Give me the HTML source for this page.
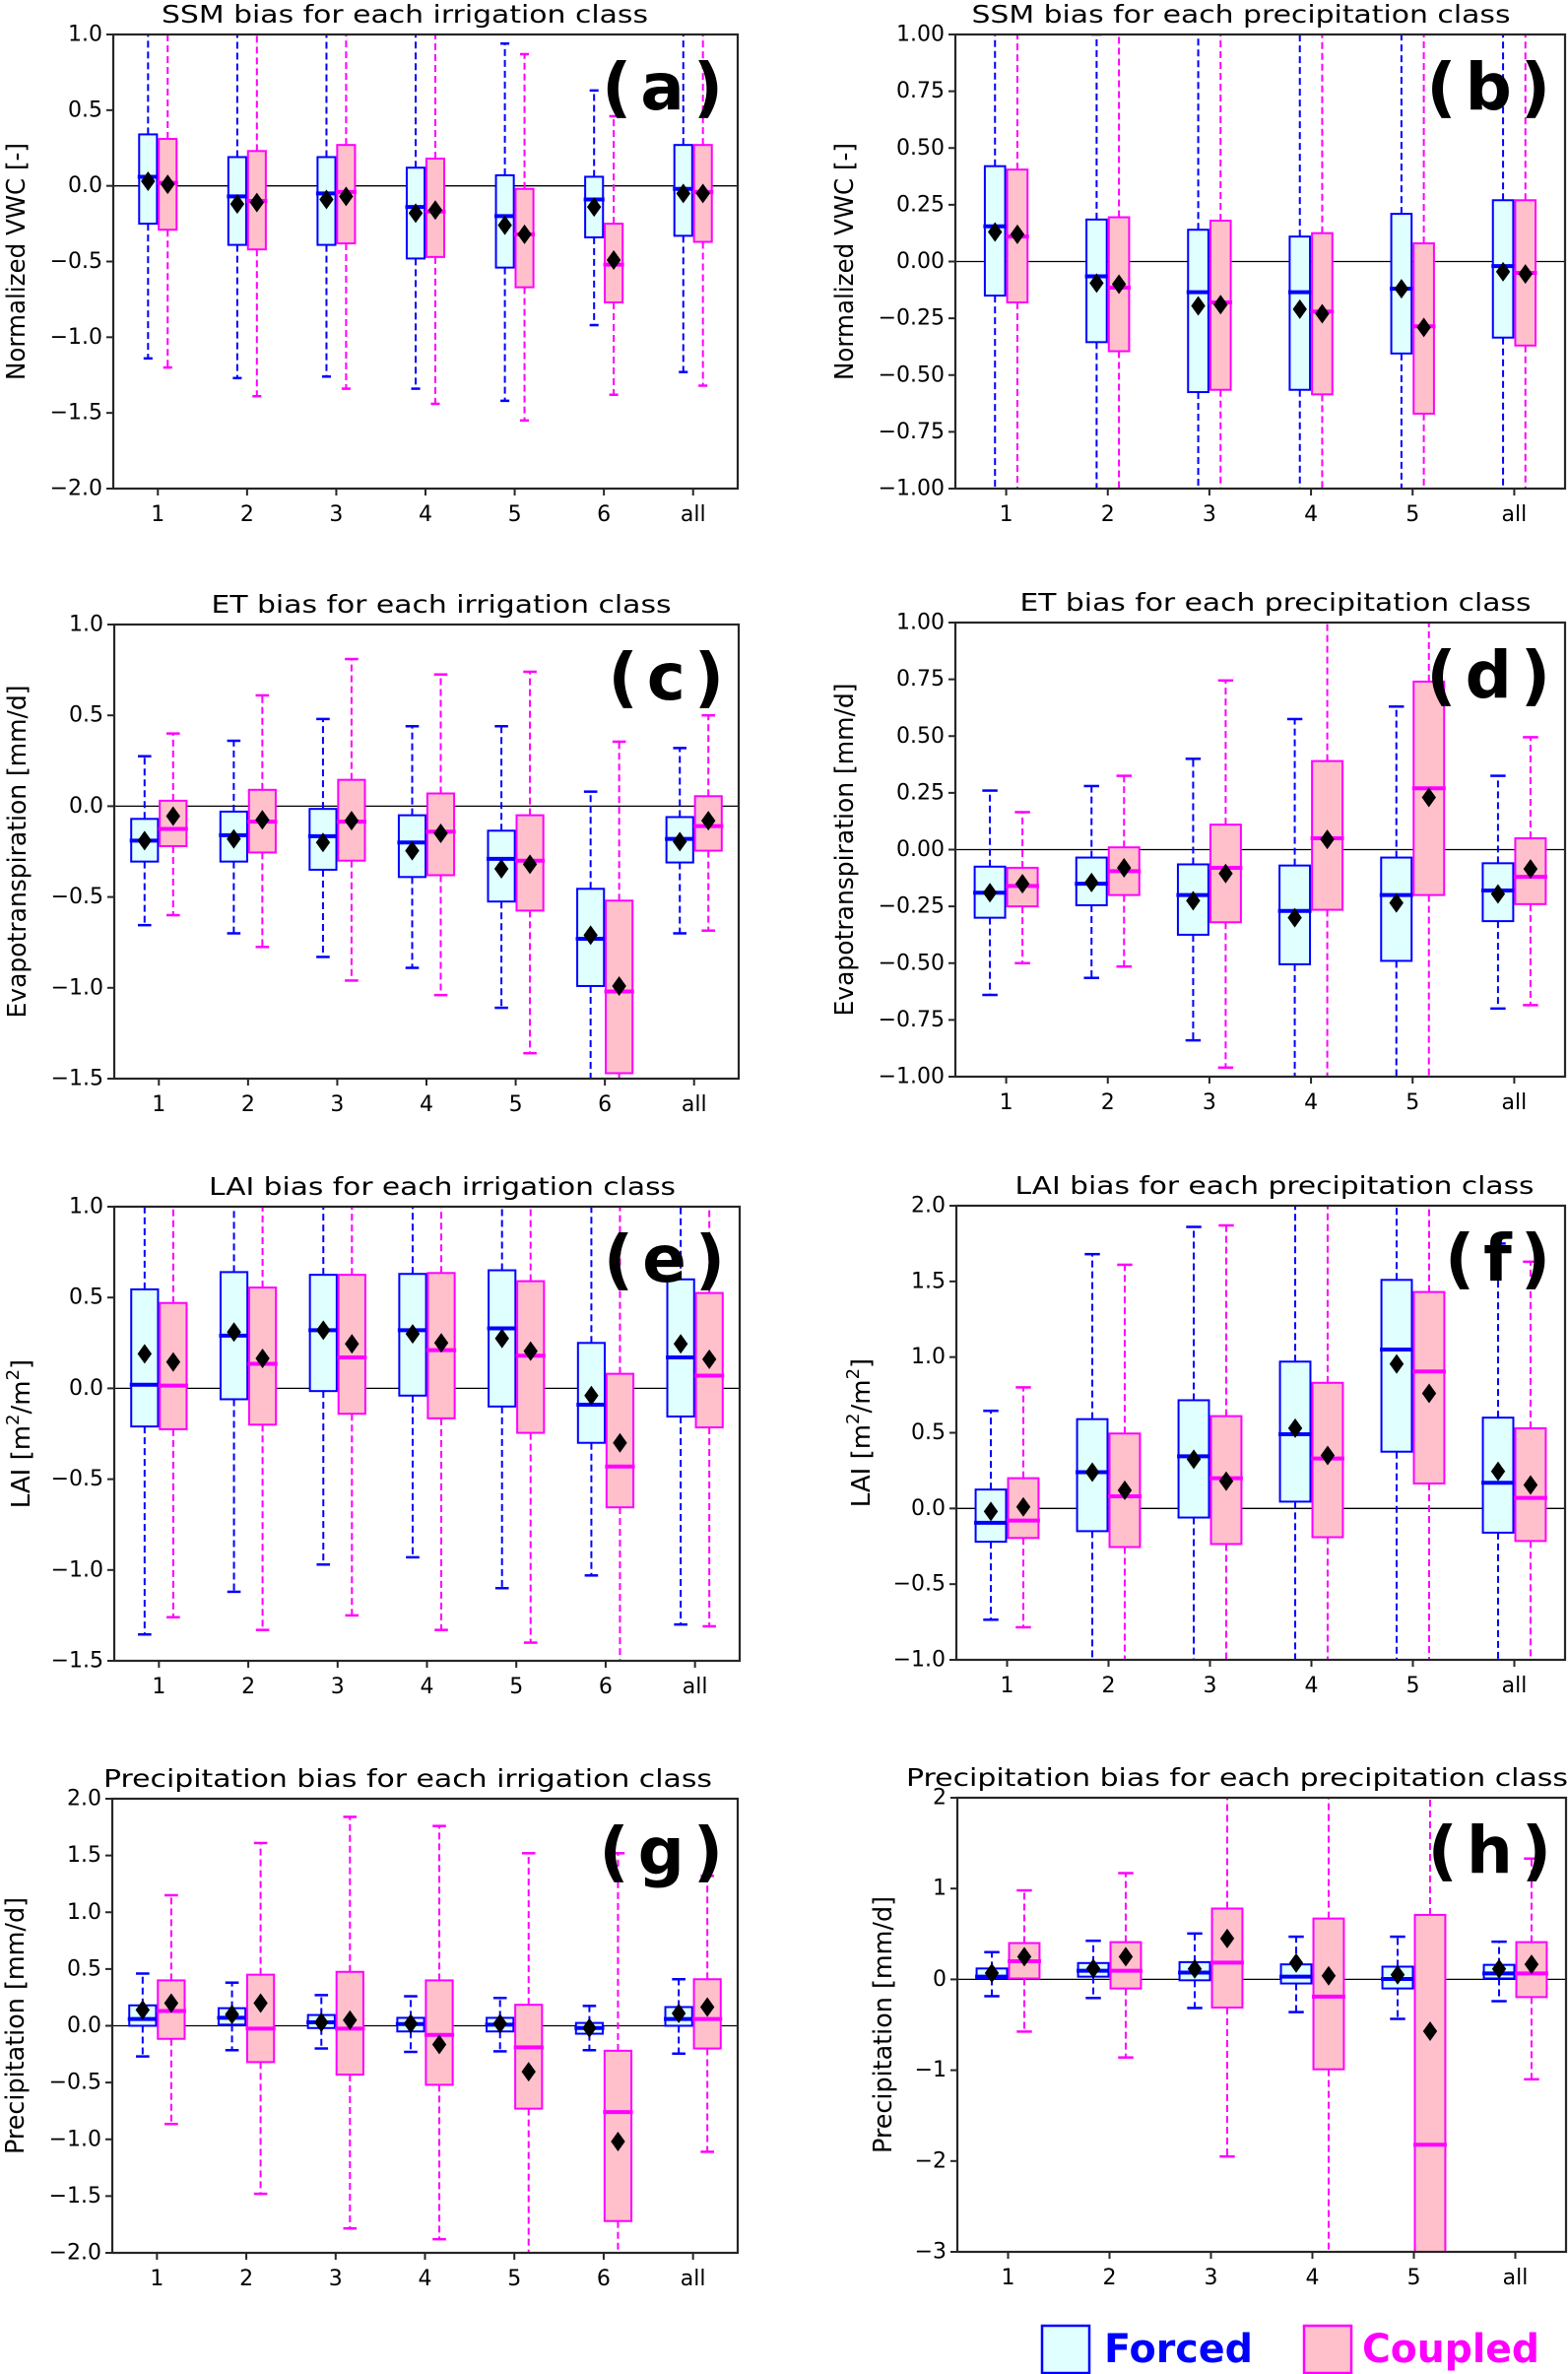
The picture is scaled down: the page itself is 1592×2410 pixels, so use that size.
<!DOCTYPE html>
<html><head><meta charset="utf-8"><title>Bias boxplots</title>
<style>
html,body{margin:0;padding:0;background:#fff;}
svg{display:block;}
text{font-family:"DejaVu Sans","Liberation Sans",sans-serif;}
</style></head>
<body>
<svg id="fig" xmlns="http://www.w3.org/2000/svg" width="1592" height="2410" viewBox="0 0 1592 2410">
<rect x="0" y="0" width="1592" height="2410" fill="#fff"/>
<g>
  <rect x="1058" y="2361" width="48" height="48" fill="#e0ffff" stroke="#0000ff" stroke-width="2.5"/>
  <text x="1121" y="2398" font-size="40" font-weight="bold" fill="#0000ff" textLength="151" lengthAdjust="spacingAndGlyphs">Forced</text>
  <rect x="1324" y="2361" width="48" height="48" fill="#ffc0cb" stroke="#ff00ff" stroke-width="2.5"/>
  <text x="1383" y="2398" font-size="40" font-weight="bold" fill="#ff00ff" textLength="180" lengthAdjust="spacingAndGlyphs">Coupled</text>
</g>
</svg>
<script>
// rows: [whiskerLow, q1, median, q3, whiskerHigh, mean]
const irrCats = ["1","2","3","4","5","6","all"];
const preCats = ["1","2","3","4","5","all"];

const aForced = [[-1.14,-0.25,0.06,0.34,1.5,0.03],[-1.27,-0.39,-0.07,0.19,1.5,-0.12],[-1.26,-0.39,-0.05,0.19,1.5,-0.09],[-1.34,-0.48,-0.14,0.12,1.5,-0.18],[-1.42,-0.54,-0.20,0.07,0.94,-0.26],[-0.92,-0.34,-0.09,0.06,0.63,-0.14],[-1.23,-0.33,-0.02,0.27,1.5,-0.05]];
const aCoupled = [[-1.20,-0.29,0.02,0.31,1.5,0.01],[-1.39,-0.42,-0.10,0.23,1.5,-0.11],[-1.34,-0.38,-0.04,0.27,1.5,-0.07],[-1.44,-0.47,-0.17,0.18,1.5,-0.16],[-1.55,-0.67,-0.32,-0.02,0.87,-0.32],[-1.38,-0.77,-0.52,-0.25,0.46,-0.49],[-1.32,-0.37,-0.04,0.27,1.5,-0.05]];
const aTicks = [-2,-1.5,-1,-0.5,0,0.5,1];
const aTickLabels = ["\u22122.0","\u22121.5","\u22121.0","\u22120.5","0.0","0.5","1.0"];

const bForced = [[-2,-0.15,0.155,0.42,2,0.13],[-2,-0.355,-0.065,0.185,1.0,-0.095],[-2,-0.575,-0.135,0.14,2,-0.195],[-2,-0.565,-0.135,0.11,2,-0.21],[-2,-0.405,-0.12,0.21,2,-0.12],[-2,-0.335,-0.02,0.27,2,-0.045]];
const bCoupled = [[-2,-0.18,0.11,0.405,2,0.12],[-2,-0.395,-0.115,0.195,2,-0.10],[-2,-0.565,-0.18,0.18,2,-0.19],[-2,-0.585,-0.22,0.125,2,-0.23],[-2,-0.67,-0.285,0.08,2,-0.29],[-2,-0.37,-0.05,0.27,2,-0.055]];
const bTicks = [-1,-0.75,-0.5,-0.25,0,0.25,0.5,0.75,1];
const bTickLabels = ["\u22121.00","\u22120.75","\u22120.50","\u22120.25","0.00","0.25","0.50","0.75","1.00"];

const cForced = [[-0.655,-0.305,-0.19,-0.07,0.275,-0.19],[-0.70,-0.305,-0.16,-0.03,0.36,-0.18],[-0.83,-0.35,-0.165,-0.015,0.48,-0.20],[-0.89,-0.39,-0.20,-0.05,0.44,-0.245],[-1.11,-0.525,-0.29,-0.135,0.44,-0.345],[-2,-0.99,-0.73,-0.455,0.08,-0.71],[-0.70,-0.31,-0.18,-0.06,0.32,-0.195]];
const cCoupled = [[-0.60,-0.22,-0.125,0.03,0.40,-0.055],[-0.775,-0.255,-0.085,0.09,0.61,-0.075],[-0.96,-0.30,-0.085,0.145,0.81,-0.08],[-1.04,-0.38,-0.14,0.07,0.725,-0.15],[-1.36,-0.575,-0.30,-0.05,0.74,-0.32],[-2,-1.47,-1.02,-0.52,0.355,-0.99],[-0.685,-0.245,-0.11,0.055,0.50,-0.08]];
const cTicks = [-1.5,-1,-0.5,0,0.5,1];
const cTickLabels = ["\u22121.5","\u22121.0","\u22120.5","0.0","0.5","1.0"];

const dForced = [[-0.64,-0.30,-0.19,-0.075,0.26,-0.19],[-0.565,-0.245,-0.15,-0.035,0.28,-0.145],[-0.84,-0.375,-0.20,-0.065,0.40,-0.225],[-2,-0.505,-0.27,-0.07,0.575,-0.30],[-2,-0.49,-0.20,-0.035,0.63,-0.235],[-0.70,-0.315,-0.18,-0.06,0.325,-0.195]];
const dCoupled = [[-0.50,-0.25,-0.16,-0.08,0.165,-0.15],[-0.515,-0.20,-0.095,0.01,0.325,-0.08],[-0.96,-0.32,-0.08,0.11,0.745,-0.105],[-2,-0.265,0.05,0.39,2,0.045],[-2,-0.20,0.27,0.74,2,0.23],[-0.685,-0.24,-0.12,0.05,0.495,-0.085]];
const dTicks = [-1,-0.75,-0.5,-0.25,0,0.25,0.5,0.75,1];
const dTickLabels = ["\u22121.00","\u22120.75","\u22120.50","\u22120.25","0.00","0.25","0.50","0.75","1.00"];

const eForced = [[-1.355,-0.21,0.02,0.545,2,0.19],[-1.12,-0.06,0.29,0.64,2,0.31],[-0.97,-0.015,0.32,0.625,2,0.32],[-0.93,-0.04,0.32,0.63,2,0.30],[-1.10,-0.10,0.33,0.65,2,0.275],[-1.03,-0.30,-0.09,0.25,2,-0.04],[-1.30,-0.155,0.17,0.60,2,0.245]];
const eCoupled = [[-1.26,-0.225,0.015,0.47,2,0.145],[-1.33,-0.20,0.135,0.555,2,0.165],[-1.25,-0.14,0.17,0.625,2,0.245],[-1.33,-0.165,0.21,0.635,2,0.25],[-1.40,-0.245,0.18,0.59,2,0.205],[-2,-0.655,-0.43,0.08,2,-0.30],[-1.31,-0.215,0.07,0.525,2,0.16]];
const eTicks = [-1.5,-1,-0.5,0,0.5,1];
const eTickLabels = ["\u22121.5","\u22121.0","\u22120.5","0.0","0.5","1.0"];

const fForced = [[-0.735,-0.22,-0.095,0.125,0.645,-0.02],[-2,-0.15,0.24,0.59,1.68,0.24],[-2,-0.06,0.345,0.715,1.86,0.325],[-2,0.045,0.49,0.97,3,0.53],[-2,0.375,1.05,1.51,3,0.955],[-2,-0.16,0.17,0.60,1.75,0.245]];
const fCoupled = [[-0.785,-0.195,-0.08,0.20,0.80,0.01],[-2,-0.255,0.08,0.495,1.61,0.12],[-2,-0.235,0.20,0.61,1.87,0.18],[-2,-0.19,0.33,0.83,3,0.35],[-2,0.165,0.905,1.43,3,0.76],[-2,-0.215,0.07,0.53,1.63,0.155]];
const fTicks = [-1,-0.5,0,0.5,1,1.5,2];
const fTickLabels = ["\u22121.0","\u22120.5","0.0","0.5","1.0","1.5","2.0"];

const gForced = [[-0.27,0.0,0.06,0.18,0.46,0.14],[-0.215,0.01,0.07,0.155,0.38,0.10],[-0.20,-0.02,0.03,0.095,0.27,0.03],[-0.23,-0.05,0.015,0.07,0.26,0.02],[-0.225,-0.05,0.01,0.07,0.245,0.02],[-0.215,-0.07,-0.02,0.025,0.175,-0.02],[-0.245,0.0,0.06,0.165,0.41,0.11]];
const gCoupled = [[-0.865,-0.115,0.13,0.40,1.15,0.20],[-1.48,-0.32,-0.025,0.45,1.61,0.20],[-1.785,-0.43,-0.025,0.475,1.84,0.05],[-1.88,-0.52,-0.08,0.40,1.76,-0.165],[-3,-0.73,-0.19,0.185,1.52,-0.405],[-3,-1.72,-0.76,-0.22,1.52,-1.02],[-1.11,-0.20,0.06,0.41,1.32,0.165]];
const gTicks = [-2,-1.5,-1,-0.5,0,0.5,1,1.5,2];
const gTickLabels = ["\u22122.0","\u22121.5","\u22121.0","\u22120.5","0.0","0.5","1.0","1.5","2.0"];

const hForced = [[-0.185,0.01,0.03,0.12,0.30,0.07],[-0.205,0.03,0.095,0.18,0.425,0.12],[-0.315,-0.01,0.075,0.19,0.505,0.115],[-0.36,-0.045,0.03,0.165,0.47,0.18],[-0.435,-0.10,0.005,0.14,0.47,0.05],[-0.24,0.01,0.065,0.16,0.415,0.115]];
const hCoupled = [[-0.575,0.01,0.20,0.40,0.98,0.25],[-0.86,-0.10,0.095,0.41,1.17,0.25],[-1.95,-0.31,0.185,0.78,3,0.45],[-4,-0.99,-0.19,0.67,3,0.04],[-4,-4,-1.82,0.71,3,-0.57],[-1.10,-0.195,0.065,0.41,1.33,0.165]];
const hTicks = [-3,-2,-1,0,1,2];
const hTickLabels = ["\u22123","\u22122","\u22121","0","1","2"];

const NS = "http://www.w3.org/2000/svg";
const svg = document.getElementById("fig");
function mk(tag, attrs, parent){
  const el = document.createElementNS(NS, tag);
  for (const k in attrs) el.setAttribute(k, attrs[k]);
  parent.appendChild(el);
  return el;
}

const panels = [
 {id:"a",x0:115,x1:749,y0:35,ymin:-2,ymax:1,cats:irrCats,F:aForced,C:aCoupled,ticks:aTicks,tl:aTickLabels,bw:0.2,off:0.11,title:"SSM bias for each irrigation class",tc:411,tw:494,yl:"Normalized VWC [-]",ylx:17,yll:241},
 {id:"b",x0:970,x1:1589,y0:35,ymin:-1,ymax:1,cats:preCats,F:bForced,C:bCoupled,ticks:bTicks,tl:bTickLabels,bw:0.2,off:0.11,title:"SSM bias for each precipitation class",tc:1260,tw:547,yl:"Normalized VWC [-]",ylx:858,yll:241},
 {id:"c",x0:116,x1:750,y0:634,ymin:-1.5,ymax:1,cats:irrCats,F:cForced,C:cCoupled,ticks:cTicks,tl:cTickLabels,bw:0.3,off:0.16,title:"ET bias for each irrigation class",tc:448,tw:467,yl:"Evapotranspiration [mm/d]",ylx:18,yll:338},
 {id:"d",x0:970,x1:1589,y0:632,ymin:-1,ymax:1,cats:preCats,F:dForced,C:dCoupled,ticks:dTicks,tl:dTickLabels,bw:0.3,off:0.16,title:"ET bias for each precipitation class",tc:1295,tw:519,yl:"Evapotranspiration [mm/d]",ylx:858,yll:338},
 {id:"e",x0:116,x1:751,y0:1225,ymin:-1.5,ymax:1,cats:irrCats,F:eForced,C:eCoupled,ticks:eTicks,tl:eTickLabels,bw:0.3,off:0.16,title:"LAI bias for each irrigation class",tc:449,tw:474,yl:"LAI",ylx:21,yll:0},
 {id:"f",x0:971,x1:1589,y0:1224,ymin:-1,ymax:2,cats:preCats,F:fForced,C:fCoupled,ticks:fTicks,tl:fTickLabels,bw:0.3,off:0.16,title:"LAI bias for each precipitation class",tc:1294,tw:527,yl:"LAI",ylx:874,yll:0},
 {id:"g",x0:114,x1:749,y0:1826,ymin:-2,ymax:2,cats:irrCats,F:gForced,C:gCoupled,ticks:gTicks,tl:gTickLabels,bw:0.3,off:0.16,title:"Precipitation bias for each irrigation class",tc:414,tw:618,yl:"Precipitation [mm/d]",ylx:16,yll:261},
 {id:"h",x0:972,x1:1590,y0:1825,ymin:-3,ymax:2,cats:preCats,F:hForced,C:hCoupled,ticks:hTicks,tl:hTickLabels,bw:0.3,off:0.16,title:"Precipitation bias for each precipitation class",tc:1256,tw:672,yl:"Precipitation [mm/d]",ylx:897,yll:261}
];
const PH = 461;

panels.forEach(function(p){
  const y1 = p.y0 + PH;
  const n = p.cats.length;
  const xs = function(v){ return p.x0 + (v - 0.5) / n * (p.x1 - p.x0); };
  const ys = function(v){ return y1 - (v - p.ymin) / (p.ymax - p.ymin) * PH; };
  const g = mk("g", {}, svg);
  
  

  const clipId = "clip-" + p.id;
  const cp = mk("clipPath", {id: clipId}, g);
  mk("rect", {x:p.x0, y:p.y0, width:p.x1-p.x0, height:PH}, cp);

  const title = mk("text", {x:p.tc, y:p.y0-12, "font-size":25, "text-anchor":"middle", textLength:p.tw, lengthAdjust:"spacingAndGlyphs", fill:"#000"}, g);
  title.textContent = p.title;
  
  

  const cy = p.y0 + PH/2;
  const ylab = mk("text", {x:p.ylx, y:cy, "font-size":26, "text-anchor":"middle", "dominant-baseline":"central", transform:"rotate(-90 "+p.ylx+" "+cy+")", fill:"#000"}, g);
  if (p.yl === "LAI") {
    ylab.setAttribute("y", cy + 9);
    ylab.removeAttribute("dominant-baseline");
    ylab.appendChild(document.createTextNode("LAI [m"));
    const s1 = mk("tspan", {"font-size":18, dy:-11}, ylab); s1.textContent = "2";
    const t1 = mk("tspan", {dy:11}, ylab); t1.textContent = "/m";
    const s2 = mk("tspan", {"font-size":18, dy:-11}, ylab); s2.textContent = "2";
    const t2 = mk("tspan", {dy:11}, ylab); t2.textContent = "]";
  } else {
    ylab.textContent = p.yl;
    ylab.setAttribute("textLength", p.yll);
    ylab.setAttribute("lengthAdjust", "spacingAndGlyphs");
  }
  
  

  p.ticks.forEach(function(t, i){
    const yy = ys(t);
    const tk = mk("line", {x1:p.x0-7, x2:p.x0, y1:yy, y2:yy, stroke:"#262626", "stroke-width":2}, g);
    
    
    const lb = mk("text", {x:p.x0-11, y:yy, "font-size":22, "text-anchor":"end", "dominant-baseline":"central", fill:"#000"}, g);
    lb.textContent = p.tl[i];
    
    
  });

  p.cats.forEach(function(c, i){
    const xx = xs(i+1);
    const tk = mk("line", {x1:xx, x2:xx, y1:y1, y2:y1+7, stroke:"#262626", "stroke-width":2}, g);
    
    
    const lb = mk("text", {x:xx, y:y1+33, "font-size":22, "text-anchor":"middle", fill:"#000"}, g);
    lb.textContent = c;
    
    
  });

  const plot = mk("g", {"clip-path":"url(#"+clipId+")"}, g);
  
  

  const zl = mk("line", {x1:p.x0, x2:p.x1, y1:ys(0), y2:ys(0), stroke:"#000", "stroke-width":1.3}, plot);
  
  

  function drawBox(row, center, col, fill, series, cat){
    const bx = mk("g", {}, plot);
    
    
    const lo=row[0], q1=row[1], med=row[2], q3=row[3], hi=row[4], mean=row[5];
    const cx = xs(center);
    const hw = (xs(center + p.bw/2) - xs(center - p.bw/2)) / 2;
    const cw = hw / 2;
    const w1 = mk("line", {x1:cx, x2:cx, y1:ys(q3), y2:ys(hi), stroke:col, "stroke-width":2, "stroke-dasharray":"7,4"}, bx);
    
    
    const w2 = mk("line", {x1:cx, x2:cx, y1:ys(q1), y2:ys(lo), stroke:col, "stroke-width":2, "stroke-dasharray":"7,4"}, bx);
    
    
    const c1 = mk("line", {x1:cx-cw, x2:cx+cw, y1:ys(hi), y2:ys(hi), stroke:col, "stroke-width":2.5}, bx);
    
    
    const c2 = mk("line", {x1:cx-cw, x2:cx+cw, y1:ys(lo), y2:ys(lo), stroke:col, "stroke-width":2.5}, bx);
    
    
    const r = mk("rect", {x:cx-hw, y:ys(q3), width:2*hw, height:ys(q1)-ys(q3), fill:fill, stroke:col, "stroke-width":2}, bx);
    
    
    const m = mk("line", {x1:cx-hw-1.5, x2:cx+hw+1.5, y1:ys(med), y2:ys(med), stroke:col, "stroke-width":4}, bx);
    
    
    const my = ys(mean), d = 10;
    const dm = mk("polygon", {points:(cx)+","+(my-d)+" "+(cx+d*0.72)+","+my+" "+cx+","+(my+d)+" "+(cx-d*0.72)+","+my, fill:"#000"}, bx);
    
    
  }

  p.cats.forEach(function(c, i){
    drawBox(p.F[i], i+1-p.off, "#0000ff", "#e0ffff", "forced", c);
    drawBox(p.C[i], i+1+p.off, "#ff00ff", "#ffc0cb", "coupled", c);
  });

  const fr = mk("rect", {x:p.x0, y:p.y0, width:p.x1-p.x0, height:PH, fill:"none", stroke:"#262626", "stroke-width":2.2}, g);
  
  

  const pl = mk("text", {x:p.x1-6, y:p.y0+76, "font-size":66, "font-weight":"bold", "text-anchor":"end", "letter-spacing":"9", fill:"#000"}, g);
  pl.textContent = "(" + p.id + ")";
  
  
});
</script>
</body></html>
